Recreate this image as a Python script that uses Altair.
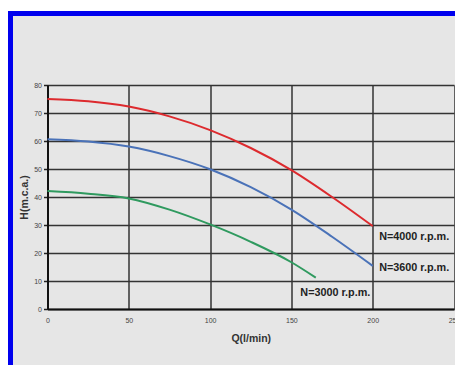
import altair as alt
import pandas as pd

# Pump curves
q_4000 = [0, 25, 50, 75, 100, 125, 150, 175, 200]
h_4000 = [75, 74.2, 72.3, 68.8, 63.9, 57.5, 49.6, 40.0, 29.6]
q_3600 = [0, 25, 50, 75, 100, 125, 150, 175, 200]
h_3600 = [60.6, 59.8, 58.0, 54.6, 49.9, 43.5, 35.5, 25.8, 15.4]
q_3000 = [0, 25, 50, 75, 100, 125, 150, 165]
h_3000 = [42.1, 41.2, 39.5, 35.5, 30.2, 24.0, 16.7, 11.2]

label_text = ["N=4000 r.p.m.", "N=3600 r.p.m.", "N=3000 r.p.m."]
label_q = [204, 204, 155.5]
label_h = [25.7, 14.6, 5.7]

x_ticks = [0, 50, 100, 150, 200, 250]
y_ticks = [0, 10, 20, 30, 40, 50, 60, 70, 80]

series = ["4000", "3600", "3000"]
colors = ["#dd2a2e", "#4a72b8", "#2f9a5f"]

rows = []
for name, qs, hs in zip(series, [q_4000, q_3600, q_3000], [h_4000, h_3600, h_3000]):
    for q, h in zip(qs, hs):
        rows.append({"N": name, "Q": q, "H": h})
df = pd.DataFrame(rows)
labels = pd.DataFrame({"text": label_text, "Q": label_q, "H": label_h})

W, H = 406.5, 224

frame = alt.Chart(pd.DataFrame({"a": [0]})).mark_rect(
    fillOpacity=0, stroke="#0000ee", strokeWidth=5
).encode(
    x=alt.value(-37), x2=alt.value(W + 200),
    y=alt.value(-71.5), y2=alt.value(H + 200),
)
topband = alt.Chart(pd.DataFrame({"a": [0]})).mark_rect(
    fill="white", strokeWidth=0
).encode(
    x=alt.value(-45), x2=alt.value(W + 60),
    y=alt.value(-80), y2=alt.value(-74),
)

xs = alt.X("Q:Q", scale=alt.Scale(domain=[0, 250], nice=False),
           axis=alt.Axis(values=x_ticks, title="Q(l/min)",
                         titleFontSize=10.5, titleFontWeight="bold", titleColor="#333",
                         titlePadding=10, labelFontSize=7, labelColor="#444",
                         labelPadding=7, ticks=False, labelFlush=False,
                         labelOverlap=False))
ys = alt.Y("H:Q", scale=alt.Scale(domain=[0, 80], nice=False),
           axis=alt.Axis(values=y_ticks, title="H(m.c.a.)",
                         titleFontSize=10.5, titleFontWeight="bold", titleColor="#333",
                         titlePadding=4, labelFontSize=7, labelColor="#444",
                         labelPadding=2, tickSize=4, tickColor="#222", tickWidth=1.5,
                         labelOverlap=False))

lines = alt.Chart(df).mark_line(strokeWidth=2, interpolate="monotone").encode(
    x=xs, y=ys,
    color=alt.Color("N:N", scale=alt.Scale(domain=series, range=colors), legend=None),
    detail="N:N",
)

text = alt.Chart(labels).mark_text(
    align="left", baseline="middle", fontSize=10.8, color="#222",
    font="Liberation Sans", fontWeight="bold"
).encode(x=xs, y=ys, text="text:N")

chart = alt.layer(frame, topband, lines, text).properties(
    width=W, height=H,
    background="#e6e6e6",
    autosize=alt.AutoSizeParams(type="none"),
    padding={"left": 39.5, "top": 77, "right": 1, "bottom": 56},
).configure_axis(
    gridColor="#333", gridWidth=1.5, gridOpacity=1,
    domainColor="#111", domainWidth=2,
    labelFont="Liberation Sans", titleFont="Liberation Sans",
).configure_view(strokeWidth=0)

chart.save("out.html", embed_options={"renderer": "svg", "actions": False})
